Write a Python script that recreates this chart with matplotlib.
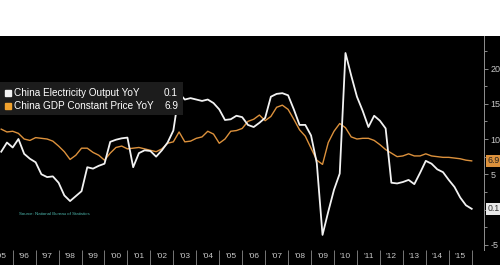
import numpy as np
import matplotlib.pyplot as plt
from matplotlib.patches import Rectangle
from matplotlib.lines import Line2D

plt.rcParams['font.family'] = ['Liberation Sans', 'DejaVu Sans']

# quarterly readings, first point mid-1995
start = 1995.5
electricity = [8.2, 9.5, 8.8, 10.0, 7.9, 7.2, 6.7, 5.0, 4.6, 4.7,
               3.8, 2.0, 1.2, 1.9, 2.6, 6.0, 5.8, 6.2, 6.5, 9.6,
               9.9, 10.1, 10.2, 6.0, 8.0, 8.4, 8.3, 7.5, 8.4, 9.5,
               11.2, 16.5, 15.6, 15.8, 15.6, 15.4, 15.6, 15.1, 14.2, 12.7,
               12.8, 13.3, 13.1, 12.0, 11.7, 12.3, 13.0, 16.0, 16.4, 16.5,
               16.2, 14.2, 12.0, 12.0, 10.5, 6.6, -3.6, -0.3, 2.8, 5.1,
               22.2, 19.0, 16.0, 14.0, 11.7, 13.3, 12.6, 11.5, 3.8, 3.7,
               3.9, 4.2, 3.6, 5.2, 6.9, 6.5, 5.7, 5.3, 4.2, 3.2,
               1.7, 0.6, 0.1]
gdp = [11.4, 11.0, 11.1, 10.8, 10.0, 9.8, 10.2, 10.1, 10.0, 9.7,
       9.0, 8.2, 7.1, 7.7, 8.7, 8.7, 8.1, 7.7, 7.0, 8.0,
       8.8, 9.0, 8.6, 8.7, 8.8, 8.6, 8.4, 8.2, 8.6, 9.4,
       9.6, 11.0, 9.6, 9.7, 10.1, 10.3, 11.1, 10.7, 9.4, 10.0,
       11.1, 11.2, 11.5, 12.5, 12.8, 13.4, 12.6, 13.2, 14.5, 14.8,
       14.2, 12.8, 11.3, 10.4, 8.7, 7.0, 6.4, 9.5, 11.1, 12.2,
       11.6, 10.3, 10.0, 10.1, 10.1, 9.8, 9.2, 8.5, 8.0, 7.5,
       7.6, 7.9, 7.6, 7.6, 7.9, 7.6, 7.5, 7.4, 7.4, 7.3,
       7.2, 7.0, 6.9]
years = list(range(1995, 2016))
year_labels = ["'" + str(y)[2:] for y in years]
names = ["China Electricity Output YoY", "China GDP Constant Price YoY"]

white = '#f2f2f2'
orange = '#dc913c'
x = start + 0.25 * np.arange(len(electricity))

fig = plt.figure(figsize=(5, 2.65), dpi=100, facecolor='black')
fig.patches.append(Rectangle((0, 1 - 36 / 265), 1, 36 / 265, transform=fig.transFigure,
                             facecolor='white', edgecolor='none'))
ax = fig.add_axes([0, 15 / 265, 484 / 500, 214 / 265])
ax.set_facecolor('black')

ax.plot(x, gdp, color=orange, lw=1.0, zorder=2)
ax.plot(x, electricity, color=white, lw=1.3, zorder=3)

ax.set_xlim(1995.447, 2016.536)
ax.set_ylim(-5.74, 24.61)

# right value axis (the 0 label sits under the last-value tag)
ax.yaxis.tick_right()
ax.set_yticks([-5, 0, 5, 10, 15, 20])
ax.set_yticklabels(['-5', '', '5', '10', '15', '20'])
ax.set_yticks([-2.5, 2.5, 7.5, 12.5, 17.5, 22.5], minor=True)
ax.tick_params(axis='y', which='both', colors='#a0a0a0', labelcolor='#c8c8c8',
               direction='out', length=3, width=0.6, labelsize=6.5, pad=1.5)
ax.tick_params(axis='y', which='minor', length=2)

# year strip
ax.set_xticks(range(1996, 2017))
ax.set_xticks([y + 0.5 for y in years], minor=True)
ax.set_xticklabels([])
ax.set_xticklabels(year_labels, minor=True)
ax.tick_params(axis='x', which='major', direction='out', length=11, width=0.6,
               colors='#8a8a8a')
ax.tick_params(axis='x', which='minor', length=0, labelsize=6,
               labelcolor='#c8c8c8', pad=2.5)

for side in ['top', 'left', 'bottom']:
    ax.spines[side].set_visible(False)
ax.spines['right'].set_color('#909090')
ax.spines['right'].set_linewidth(0.7)

# legend panel
ax.add_patch(Rectangle((0, 0.631), 0.378, 0.154, transform=ax.transAxes,
                       facecolor='#1c1c1c', edgecolor='none', zorder=4))
rows = [0.732, 0.674]
for yy, name, col, series in zip(rows, names, [white, '#f0a22e'], [electricity, gdp]):
    ax.add_line(Line2D([0.0165], [yy], marker='s', markersize=4.5, color=col,
                       transform=ax.transAxes, zorder=5))
    ax.text(0.029, yy, name, transform=ax.transAxes, color='white', fontsize=7.2,
            va='center', ha='left', zorder=5)
    ax.text(0.368, yy, f"{series[-1]:.1f}", transform=ax.transAxes, color='white',
            fontsize=7.2, va='center', ha='right', zorder=5)

ax.text(0.04, 0.17, "Source: National Bureau of Statistics", transform=ax.transAxes,
        color='#4db6ac', fontsize=3.2, va='center', ha='left')

# last value tags on the axis
for series, face, tc in [(gdp, orange, '#202020'), (electricity, '#e8e8e8', '#303030')]:
    ax.annotate(f"{series[-1]:.1f}", xy=(1, series[-1]), xycoords=('axes fraction', 'data'),
                xytext=(2.5, 0), textcoords='offset points', ha='left', va='center',
                fontsize=6.3, color=tc, annotation_clip=False, zorder=6,
                bbox=dict(boxstyle='square,pad=0.2', facecolor=face, edgecolor='none'))

fig.savefig('out.png', dpi=100, facecolor=fig.get_facecolor())
